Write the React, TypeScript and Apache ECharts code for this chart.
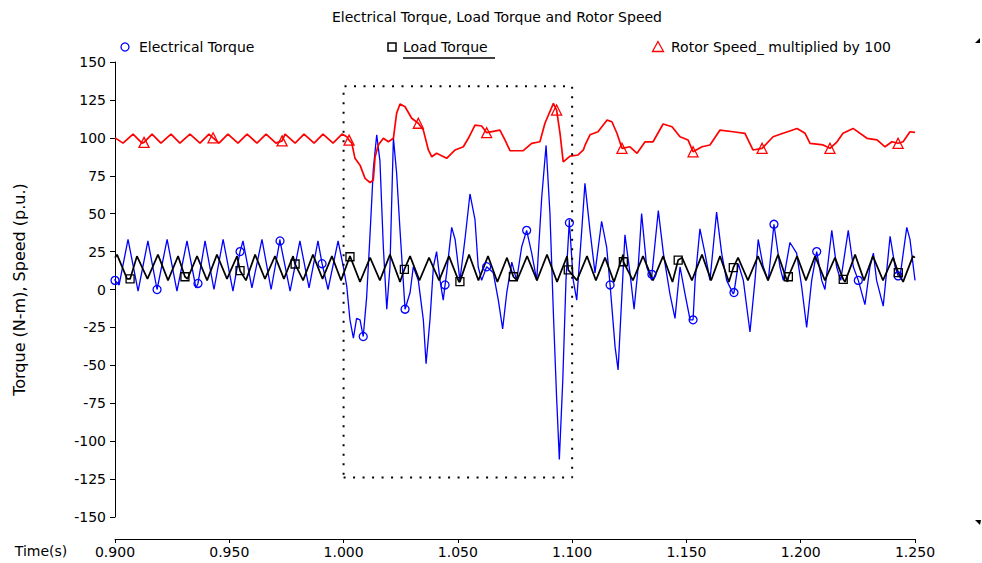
import React, { useEffect, useRef } from "react";
import * as echarts from "echarts";

const TITLE = "Electrical Torque, Load Torque and Rotor Speed";
const Y_NAME = "Torque (N-m), Speed (p.u.)";
const X_NAME = "Time(s)";
const NAME_ELEC = "Electrical Torque";
const NAME_LOAD = "Load Torque";
const NAME_SPEED = "Rotor Speed_ multiplied by 100";

const X_MIN = 0.9;
const X_MAX = 1.25;
const X_STEP = 0.05;
const Y_MIN = -150;
const Y_MAX = 150;
const Y_STEP = 25;

// dotted zoom box [time range], [value range]
const BOX_T = [1.0, 1.1];
const BOX_V = [-124, 134];

// Electrical torque (blue) [time s, N-m]
const ELEC: [number, number][] = [
  [0.9, 7], [0.9018, 3], [0.9057, 33], [0.9101, -1], [0.9144, 32], [0.9184, 0], [0.9228, 33], [0.9271, -1],
  [0.9315, 32], [0.9354, 1], [0.9394, 32], [0.9433, 0], [0.9473, 33], [0.9516, -1], [0.956, 32], [0.9599, 1],
  [0.9643, 33], [0.9683, 0], [0.9722, 33], [0.9766, -1], [0.9809, 32], [0.9849, 1], [0.9888, 32], [0.9932, 0],
  [0.9976, 32], [0.9999, 15], [1.0014, 2], [1.0028, -20], [1.0043, -32], [1.0057, -19], [1.0072, -20], [1.0086, -31],
  [1.0101, -5], [1.0116, 37], [1.013, 79], [1.0145, 102], [1.0159, 85], [1.0174, 28], [1.0189, -13], [1.0203, 15],
  [1.0218, 100], [1.0232, 77], [1.0247, 39], [1.0269, -13], [1.0291, -2], [1.0305, 15], [1.0327, 6], [1.0349, -20],
  [1.0361, -49], [1.0378, -20], [1.0393, 15], [1.0407, 25], [1.0422, 6], [1.0436, -7], [1.0451, 11], [1.0473, 41],
  [1.0488, 33], [1.0509, 6], [1.0531, 33], [1.0553, 63], [1.0575, 46], [1.0589, 15], [1.0604, 6], [1.0626, 15],
  [1.0655, 11], [1.0677, -7], [1.0696, -26], [1.0714, -2], [1.0736, 18], [1.0757, 6], [1.0779, 28], [1.0801, 39],
  [1.0823, 24], [1.0845, 6], [1.0867, 61], [1.0886, 95], [1.0903, 50], [1.0918, -16], [1.0932, -71], [1.0944, -112],
  [1.0959, -60], [1.0973, 6], [1.0988, 46], [1.1005, 6], [1.102, -7], [1.1042, 39], [1.1056, 70], [1.1078, 39],
  [1.11, 11], [1.1129, 45], [1.1151, 28], [1.1166, 3], [1.1188, -38], [1.1201, -53], [1.1231, 36], [1.1253, 11],
  [1.1271, -13], [1.1289, 15], [1.1304, 50], [1.1326, 15], [1.1348, 6], [1.1377, 52], [1.1399, 24], [1.1428, -3],
  [1.145, -19], [1.1472, 15], [1.1494, -3], [1.1516, -20], [1.1538, 6], [1.1559, 40], [1.1581, 24], [1.1603, 6],
  [1.1632, 51], [1.1654, 24], [1.1676, 6], [1.1705, -3], [1.1727, 17], [1.1749, 6], [1.1778, -28], [1.18, 6],
  [1.1814, 33], [1.1836, 15], [1.1858, 6], [1.1883, 43], [1.1909, 15], [1.1924, 6], [1.1953, 31], [1.1982, 24],
  [1.2004, 2], [1.2026, -25], [1.2048, 6], [1.207, 25], [1.2092, 6], [1.2106, 0], [1.2136, 39], [1.2157, 15],
  [1.2175, 6], [1.2208, 39], [1.223, 15], [1.2252, 6], [1.2281, -10], [1.2303, 15], [1.2318, 24], [1.2332, 6],
  [1.2361, -11], [1.2391, 35], [1.2413, 15], [1.2434, 8], [1.2464, 41], [1.2478, 33], [1.25, 6],
];
const ELEC_MARKS: [number, number][] = [
  [0.9, 6], [0.9184, 0], [0.9363, 4], [0.9547, 25], [0.9722, 32], [0.9906, 17], [1.0086, -31], [1.0269, -13],
  [1.0444, 3], [1.0626, 15], [1.0801, 39], [1.0988, 44], [1.1166, 3], [1.1349, 10], [1.1529, -20], [1.1708, -2],
  [1.1883, 43], [1.207, 25], [1.2252, 6], [1.2426, 9],
];

// Load torque (black)
const LOAD: [number, number][] = [
  [0.9, 21], [0.9009, 23], [0.9053, 7], [0.9096, 22], [0.9142, 7], [0.9188, 23], [0.9232, 6], [0.9276, 22],
  [0.9317, 7], [0.9359, 22], [0.9403, 6], [0.9446, 23], [0.949, 7], [0.9534, 22], [0.9573, 6], [0.9613, 23],
  [0.9656, 7], [0.97, 22], [0.9739, 7], [0.9779, 22], [0.9823, 6], [0.9866, 23], [0.9908, 7], [0.9949, 22],
  [0.9989, 6], [1.0028, 22], [1.0072, 5], [1.0116, 21], [1.0159, 6], [1.0203, 23], [1.0247, 5], [1.0291, 22],
  [1.0332, 6], [1.0374, 21], [1.0418, 6], [1.0461, 22], [1.0505, 5], [1.0549, 23], [1.059, 6], [1.0632, 22],
  [1.0673, 5], [1.0715, 21], [1.0759, 6], [1.0803, 22], [1.0846, 6], [1.089, 23], [1.0934, 5], [1.0978, 22],
  [1.1021, 6], [1.1065, 22], [1.1104, 6], [1.1144, 21], [1.1183, 5], [1.1223, 23], [1.1266, 6], [1.131, 22],
  [1.1354, 6], [1.1398, 22], [1.1439, 5], [1.1481, 21], [1.1524, 6], [1.1568, 23], [1.1608, 6], [1.1647, 22],
  [1.1686, 5], [1.1726, 21], [1.1769, 6], [1.1813, 22], [1.1857, 6], [1.1901, 23], [1.1942, 5], [1.1984, 22],
  [1.2023, 6], [1.2063, 22], [1.2106, 6], [1.215, 21], [1.2194, 5], [1.2238, 23], [1.2277, 6], [1.2316, 22],
  [1.236, 6], [1.2404, 21], [1.2448, 5], [1.2491, 22], [1.25, 21],
];
const LOAD_MARKS: [number, number][] = [
  [0.9066, 7], [0.9306, 8.4], [0.9547, 12.4], [0.9788, 16.8], [1.0028, 21.6], [1.0266, 13.3], [1.0509, 5.2],
  [1.0743, 8.4], [1.0983, 12.9], [1.1224, 18.3], [1.1464, 19.4], [1.1705, 14.4], [1.1946, 8.4], [1.2186, 6.7],
  [1.2427, 11.1],
];

// Rotor speed x 100 (red)
const SPEED: [number, number][] = [
  [0.9, 100], [0.9035, 96.5], [0.9079, 102.5], [0.9118, 96.5], [0.9162, 102.5], [0.9201, 96.5], [0.9245, 102.5],
  [0.9284, 96.5], [0.9328, 102.5], [0.9372, 96.5], [0.9411, 102.5], [0.9455, 96.5], [0.9494, 102.5], [0.9538, 96.5],
  [0.9578, 102.5], [0.9621, 96.5], [0.9661, 102.5], [0.9704, 96.5], [0.9744, 102.5], [0.9788, 96.5], [0.9827, 102.5],
  [0.9871, 96.5], [0.991, 102.5], [0.9954, 96.5], [0.9993, 102.5], [1.0014, 100.7], [1.0036, 96.4], [1.005, 86.5],
  [1.0072, 82], [1.0094, 73.3], [1.0116, 70.4], [1.013, 72.2], [1.0138, 87.5], [1.0152, 95.3], [1.0174, 99.7],
  [1.0196, 97.4], [1.0218, 99.7], [1.0232, 116.1], [1.0247, 122.3], [1.0269, 120.5], [1.0298, 112.9], [1.0327, 109.6],
  [1.0349, 105.1], [1.0371, 92], [1.0386, 87.5], [1.0407, 89.8], [1.0451, 86.5], [1.0488, 92], [1.0524, 94.1],
  [1.0546, 99.7], [1.0575, 108.4], [1.0604, 107.8], [1.0626, 103.4], [1.0684, 105.1], [1.0706, 98.6], [1.0728, 91.5],
  [1.0786, 91.5], [1.0823, 96.4], [1.0859, 97.4], [1.0881, 109.6], [1.0918, 122.7], [1.0932, 118.3], [1.0947, 103],
  [1.0961, 84.2], [1.0991, 88], [1.1026, 88.7], [1.1049, 92], [1.1056, 95], [1.1078, 102], [1.1113, 104],
  [1.1153, 111.7], [1.1174, 110.6], [1.1196, 103], [1.1218, 93.1], [1.1253, 94.1], [1.1284, 89.8], [1.1319, 97.4],
  [1.1354, 97.4], [1.1398, 109.1], [1.1437, 107.3], [1.1472, 100.7], [1.1507, 98.6], [1.1529, 90.8], [1.1568, 94.1],
  [1.1603, 95.3], [1.1647, 105.1], [1.1704, 104], [1.1756, 103], [1.1791, 92], [1.1831, 93.1], [1.1879, 100.7],
  [1.1923, 103], [1.1984, 106.2], [1.2019, 103], [1.2041, 96.4], [1.2098, 95.3], [1.2128, 93.1], [1.2159, 97.4],
  [1.2185, 103], [1.2229, 106.2], [1.229, 99.7], [1.2334, 98.6], [1.2369, 94.1], [1.2399, 97.4], [1.2426, 96.4],
  [1.2448, 97.4], [1.2478, 104], [1.25, 103.6],
];
const SPEED_MARKS: [number, number][] = [
  [0.9127, 97], [0.9429, 100], [0.9731, 98], [1.0024, 98.5], [1.0327, 109.6], [1.0626, 103.4], [1.0932, 118.3],
  [1.1218, 93.1], [1.1529, 90.8], [1.1831, 93.1], [1.2128, 93.1], [1.2426, 96.4],
];

const FONT = '"DejaVu Sans", "Liberation Sans", sans-serif';
const BLUE = "#0000ff";
const RED = "#ff0000";
const BLACK = "#000000";
const CLEAR = "rgba(255,255,255,0)";

function withMarks(line: [number, number][], marks: [number, number][]) {
  return [...line, ...marks].sort((a, b) => a[0] - b[0]);
}

export default function App() {
  const ref = useRef<HTMLDivElement>(null);
  useEffect(() => {
    if (!ref.current) return;
    const chart = echarts.init(ref.current, null, { renderer: "svg" });
    const boxData = [
      [BOX_T[0], BOX_V[0]],
      [BOX_T[1], BOX_V[0]],
      [BOX_T[1], BOX_V[1]],
      [BOX_T[0], BOX_V[1]],
      [BOX_T[0], BOX_V[0]],
    ];
    const markerSeries = (name: string, data: [number, number][], symbol: string, size: number, color: string) => ({
      name,
      type: "scatter",
      data,
      symbol,
      symbolSize: size,
      itemStyle: { color: CLEAR, borderColor: color, borderWidth: 1.3, opacity: 1 },
      emphasis: { disabled: true },
      z: 5,
    });
    const option: any = {
      animation: false,
      backgroundColor: "#ffffff",
      grid: { left: 115, top: 62, width: 800, height: 455, containLabel: false, outerBoundsMode: "none" },
      xAxis: {
        type: "value",
        min: X_MIN,
        max: X_MAX,
        interval: X_STEP,
        offset: 22,
        axisLine: { show: true, onZero: false, lineStyle: { color: BLACK, width: 1 } },
        axisTick: { show: true, length: 4, lineStyle: { color: BLACK } },
        splitLine: { show: false },
        axisLabel: {
          color: BLACK,
          fontSize: 14,
          fontFamily: FONT,
          margin: 6,
          formatter: (v: number) => v.toFixed(3),
        },
      },
      yAxis: {
        type: "value",
        min: Y_MIN,
        max: Y_MAX,
        interval: Y_STEP,
        axisLine: { show: true, onZero: false, lineStyle: { color: BLACK, width: 1 } },
        axisTick: { show: true, length: 5, lineStyle: { color: BLACK } },
        splitLine: { show: false },
        axisLabel: { color: BLACK, fontSize: 14, fontFamily: FONT, margin: 9 },
        name: Y_NAME,
        nameLocation: "middle",
        nameGap: 88,
        nameTextStyle: { color: BLACK, fontSize: 16, fontFamily: FONT },
      },
      graphic: [
        {
          type: "text",
          x: 497,
          y: 17,
          style: { text: TITLE, font: `14px ${FONT}`, fill: BLACK, align: "center", verticalAlign: "middle" },
        },
        {
          type: "text",
          x: 41,
          y: 551,
          style: { text: X_NAME, font: `14px ${FONT}`, fill: BLACK, align: "center", verticalAlign: "middle" },
        },
        { type: "circle", shape: { cx: 125, cy: 47, r: 4 }, style: { fill: "none", stroke: BLUE, lineWidth: 1.3 } },
        {
          type: "text",
          x: 139,
          y: 47,
          style: { text: NAME_ELEC, font: `14px ${FONT}`, fill: BLACK, align: "left", verticalAlign: "middle" },
        },
        { type: "rect", shape: { x: 388, y: 43, width: 8, height: 8 }, style: { fill: "none", stroke: BLACK, lineWidth: 1.5 } },
        {
          type: "text",
          x: 403,
          y: 47,
          style: { text: NAME_LOAD, font: `14px ${FONT}`, fill: BLACK, align: "left", verticalAlign: "middle" },
        },
        { type: "line", shape: { x1: 403, y1: 58, x2: 495, y2: 58 }, style: { stroke: BLACK, lineWidth: 1.5 } },
        {
          type: "polygon",
          shape: { points: [[658, 41.5], [652.5, 51.5], [663.5, 51.5]] },
          style: { fill: "none", stroke: RED, lineWidth: 1.3 },
        },
        {
          type: "text",
          x: 671,
          y: 47,
          style: { text: NAME_SPEED, font: `14px ${FONT}`, fill: BLACK, align: "left", verticalAlign: "middle" },
        },
        { type: "polygon", shape: { points: [[975, 43], [980, 38], [980, 43]] }, style: { fill: BLACK } },
        { type: "polygon", shape: { points: [[975, 520], [981, 520], [980, 525]] }, style: { fill: BLACK } },
      ],
      series: [
        {
          name: NAME_ELEC,
          type: "line",
          data: withMarks(ELEC, ELEC_MARKS),
          showSymbol: false,
          symbol: "none",
          lineStyle: { color: BLUE, width: 1.3 },
          itemStyle: { color: BLUE },
          z: 2,
        },
        markerSeries(NAME_ELEC, ELEC_MARKS, "circle", 8, BLUE),
        {
          name: NAME_LOAD,
          type: "line",
          data: withMarks(LOAD, LOAD_MARKS),
          showSymbol: false,
          symbol: "none",
          lineStyle: { color: BLACK, width: 1.7 },
          itemStyle: { color: BLACK },
          z: 4,
        },
        markerSeries(NAME_LOAD, LOAD_MARKS, "rect", 8, BLACK),
        {
          name: NAME_SPEED,
          type: "line",
          data: withMarks(SPEED, SPEED_MARKS),
          showSymbol: false,
          symbol: "none",
          lineStyle: { color: RED, width: 1.7 },
          itemStyle: { color: RED },
          z: 4,
        },
        markerSeries(NAME_SPEED, SPEED_MARKS, "triangle", 10, RED),
        {
          name: "zoom box",
          type: "line",
          data: boxData,
          showSymbol: false,
          symbol: "none",
          silent: true,
          lineStyle: { color: BLACK, width: 2, type: [2, 7.5] },
          z: 6,
        },
      ],
    };
    chart.setOption(option);
    return () => chart.dispose();
  }, []);
  return (
    <div
      ref={ref}
      style={{ position: "fixed", left: 0, top: 0, width: 982, height: 563, background: "#fff" }}
    />
  );
}
